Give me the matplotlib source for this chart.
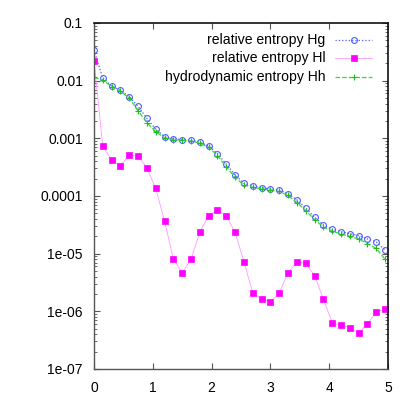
import numpy as np
import matplotlib
matplotlib.use("Agg")
import matplotlib.pyplot as plt
from matplotlib.ticker import LogLocator, FixedLocator, NullFormatter, FixedFormatter

plt.rcParams['font.family'] = ['Liberation Sans', 'DejaVu Sans']

# time grid (step 0.15)
t = [round(0.15 * k, 2) for k in range(34)]

Hg = [0.034, 0.011, 0.0081, 0.0068, 0.00527, 0.00359, 0.00222, 0.00143,
      0.00107, 9.75e-4, 9.5e-4, 9.25e-4, 8.5e-4, 7.36e-4, 5.42e-4, 3.55e-4,
      2.31e-4, 1.66e-4, 1.49e-4, 1.39e-4, 1.32e-4, 1.27e-4, 1.10e-4, 8.53e-5,
      6.2e-5, 4.27e-5, 3.14e-5, 2.64e-5, 2.41e-5, 2.22e-5, 2.05e-5, 1.80e-5,
      1.59e-5, 1.16e-5]

Hl = [0.0219, 7.28e-4, 4.21e-4, 3.36e-4, 5.14e-4, 4.94e-4, 3.06e-4, 1.36e-4,
      3.69e-5, 8.1e-6, 4.68e-6, 8.0e-6, 2.38e-5, 4.56e-5, 5.72e-5, 4.5e-5,
      2.34e-5, 7.27e-6, 2.08e-6, 1.66e-6, 1.44e-6, 2.08e-6, 4.68e-6, 7.08e-6,
      6.8e-6, 4.15e-6, 1.64e-6, 6.36e-7, 5.73e-7, 5.21e-7, 4.22e-7, 6.04e-7,
      9.75e-7, 1.08e-6]

Hh = [0.0114, 0.0103, 0.0079, 0.0065, 0.0050, 0.0030, 0.00187, 0.0013,
      0.00102, 9.5e-4, 9.3e-4, 9.0e-4, 8.2e-4, 7.0e-4, 5.0e-4, 3.2e-4,
      2.1e-4, 1.55e-4, 1.42e-4, 1.33e-4, 1.27e-4, 1.2e-4, 1.02e-4, 7.7e-5,
      5.6e-5, 3.9e-5, 2.9e-5, 2.45e-5, 2.2e-5, 2.0e-5, 1.8e-5, 1.5e-5,
      1.23e-5, 8.0e-6]

labels = ['relative entropy Hg', 'relative entropy Hl', 'hydrodynamic entropy Hh']
yticks = [1e-7, 1e-6, 1e-5, 1e-4, 1e-3, 1e-2, 1e-1]
ytick_labels = ['1e-07', '1e-06', '1e-05', '0.0001', '0.001', '0.01', '0.1']
xticks = [0, 1, 2, 3, 4, 5]

c_blue = '#4f5cff'
c_mag = '#ff00ff'
c_green = '#33dd33'

fig = plt.figure(figsize=(4.09, 4.09), dpi=100)
ax = fig.add_axes([0.2298, 0.0978, 0.7189, 0.846])

styles = [
    dict(color=c_blue, ls=':', lw=0.9, marker='o', ms=4.2, mfc='none', mec=c_blue, mew=0.8),
    dict(color='#ff99ff', ls='-', lw=0.6, marker='s', ms=4.2, mfc=c_mag, mec=c_mag, mew=0.5),
    dict(color=c_green, ls='--', lw=0.9, marker='+', ms=5, mec='#22bb22', mew=0.8),
]
series = [Hg, Hl, Hh]
for y, st in zip(series, styles):
    ax.plot(t, y, clip_on=True, **st)

ax.set_yscale('log')
ax.set_xlim(0, 5)
ax.set_ylim(1e-7, 0.1)
ax.yaxis.set_major_locator(FixedLocator(yticks))
ax.yaxis.set_major_formatter(FixedFormatter(ytick_labels))
ax.yaxis.set_minor_locator(LogLocator(base=10, subs=np.arange(2, 10), numticks=20))
ax.yaxis.set_minor_formatter(NullFormatter())
ax.set_xticks(xticks)
ax.set_xticklabels([str(v) for v in xticks])

ax.tick_params(which='both', direction='in', top=True, right=True, labelsize=10,
               color='#555555')
ax.tick_params(axis='y', pad=8)
ax.tick_params(axis='x', pad=9)
ax.tick_params(which='major', length=4, width=0.8)
ax.tick_params(which='minor', length=2.5, width=0.6)

for s in ['left', 'bottom']:
    ax.spines[s].set_color('#555555')
    ax.spines[s].set_linewidth(1.0)
for s in ['right', 'top']:
    ax.spines[s].set_color('#111111')
    ax.spines[s].set_linewidth(1.2)

# legend drawn manually (right-aligned texts, sample on right)
ys = [0.951, 0.898, 0.843]
for y, st, lab in zip(ys, styles, labels):
    ax.text(0.788, y, lab, transform=ax.transAxes, ha='right', va='center', fontsize=10.1)
    ax.plot([0.82, 0.946], [y, y], transform=ax.transAxes, clip_on=False,
            **{k: v for k, v in st.items() if k != 'marker'})
    ax.plot([0.883], [y], transform=ax.transAxes, clip_on=False, ls='none',
            **{k: v for k, v in st.items() if k not in ('ls', 'lw')})

fig.savefig('out.png', dpi=100)
